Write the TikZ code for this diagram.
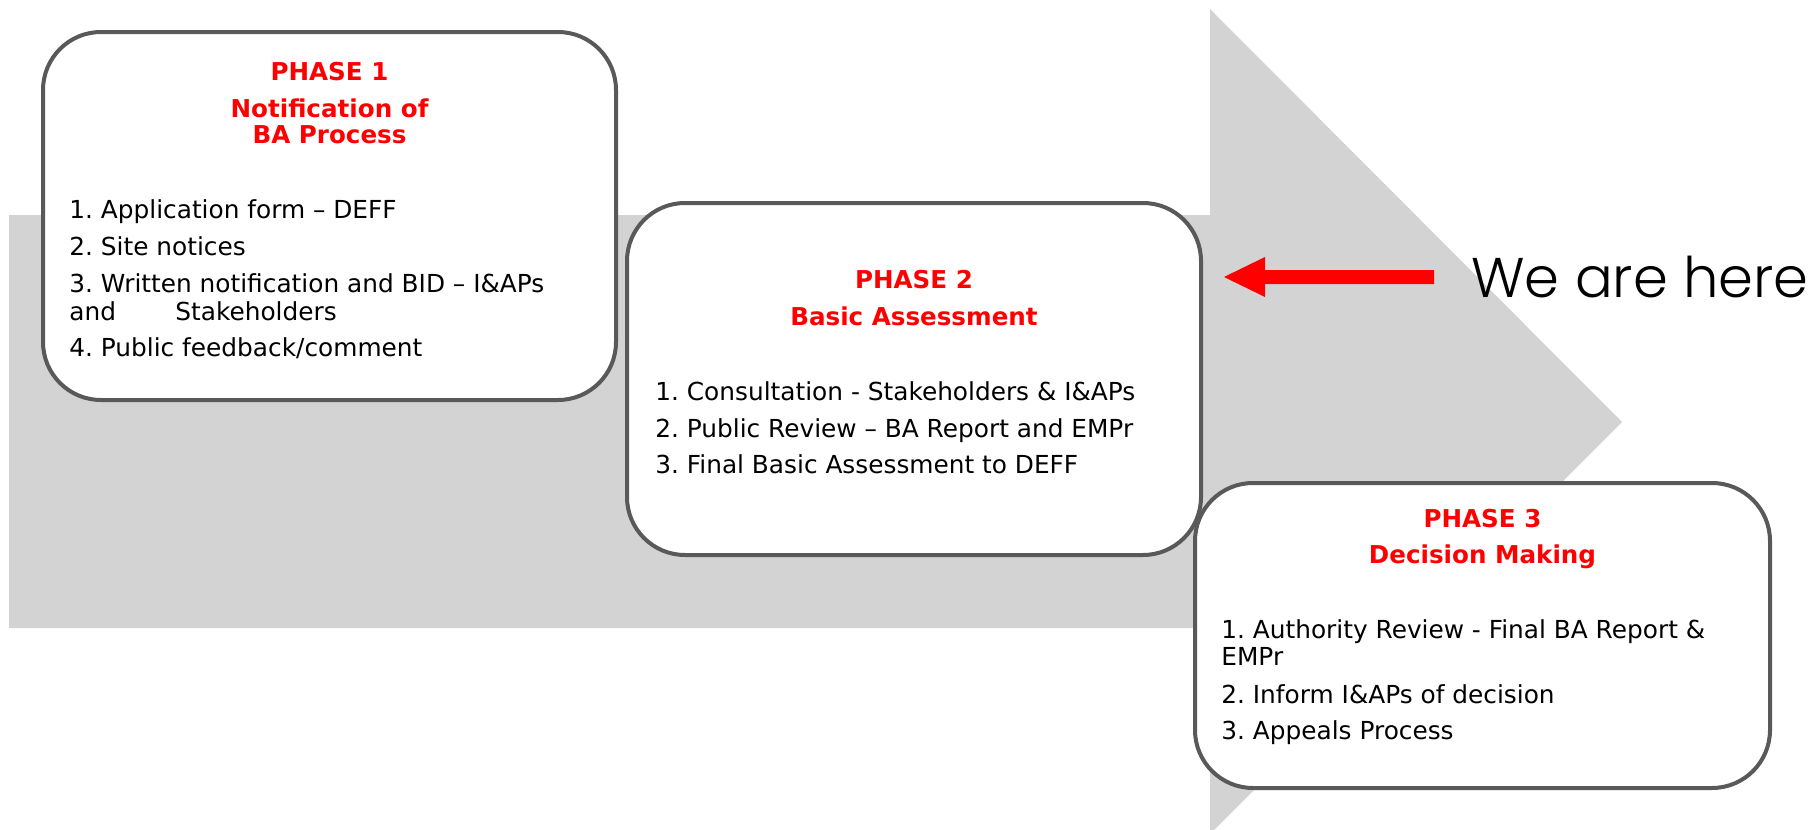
\documentclass[tikz,border=0pt]{standalone}
\usepackage{fontspec}
\setmainfont{DejaVu Sans}
\newfontfamily\wefont{Poppins Light}
\definecolor{arrowgray}{RGB}{211,211,211}
\definecolor{boxline}{RGB}{89,89,89}
\definecolor{phasered}{RGB}{255,0,0}
\frenchspacing
\begin{document}
\begin{tikzpicture}[x=0.5pt,y=-0.5pt,
  phasebox/.style={draw=boxline, line width=2pt, fill=white, rounded corners=29pt, rectangle, inner sep=0},
  title/.style={anchor=base, inner sep=0, text=phasered, font=\fontsize{12.3}{15}\selectfont\bfseries},
  item/.style={anchor=base west, inner sep=0, font=\fontsize{12.4}{15}\selectfont},
]
\useasboundingbox (0,0) rectangle (1816,830);
% big gray arrow
\fill[arrowgray] (9,215) -- (1210,215) -- (1210,9) -- (1622,422) -- (1214,830) -- (1210,830) -- (1210,628) -- (9,628) -- cycle;

% Phase 1
\node[phasebox, minimum width=286.5pt, minimum height=184pt] (box1) at (329.5,216) {};
\node[title] (p1a) at (329.5,80) {PHASE 1};
\node[title] (p1b) at (329.5,117) {Notification of};
\node[title] (p1c) at (329.5,143) {BA Process};
\node[item] (p1i1) at (69,218) {1. Application form – DEFF};
\node[item] (p1i2) at (69,255) {2. Site notices};
\node[item] (p1i3) at (69,292) {3. Written notification and BID – I\&APs};
\node[item] (p1i3b) at (69,320) {\makebox[53pt][l]{and}Stakeholders};
\node[item] (p1i4) at (69,356) {4. Public feedback/comment};

% Phase 2
\node[phasebox, minimum width=287pt, minimum height=176pt] (box2) at (914,379) {};
\node[title] (p2a) at (914,288) {PHASE 2};
\node[title] (p2b) at (914,325) {Basic Assessment};
\node[item] (p2i1) at (655,400) {1. Consultation - Stakeholders \& I\&APs};
\node[item] (p2i2) at (655,437) {2. Public Review – BA Report and EMPr};
\node[item] (p2i3) at (655,473) {3. Final Basic Assessment to DEFF};

% Phase 3
\node[phasebox, minimum width=287.5pt, minimum height=152.5pt] (box3) at (1482.5,635.5) {};
\node[title] (p3a) at (1482.5,527) {PHASE 3};
\node[title] (p3b) at (1482.5,563) {Decision Making};
\node[item] (p3i1) at (1221,638) {1. Authority Review - Final BA Report \&};
\node[item] (p3i1b) at (1221,665) {EMPr};
\node[item] (p3i2) at (1221,703) {2. Inform I\&APs of decision};
\node[item] (p3i3) at (1221,739) {3. Appeals Process};

% We are here
\node[anchor=base west, inner sep=0, font=\wefont\fontsize{28}{30}\selectfont] (here) at (1471,297) {We are here};
\fill[phasered] (1434,270) -- (1265,270) -- (1265,257) -- (1224,277) -- (1265,297) -- (1265,284) -- (1434,284) -- cycle;
\end{tikzpicture}
\end{document}
